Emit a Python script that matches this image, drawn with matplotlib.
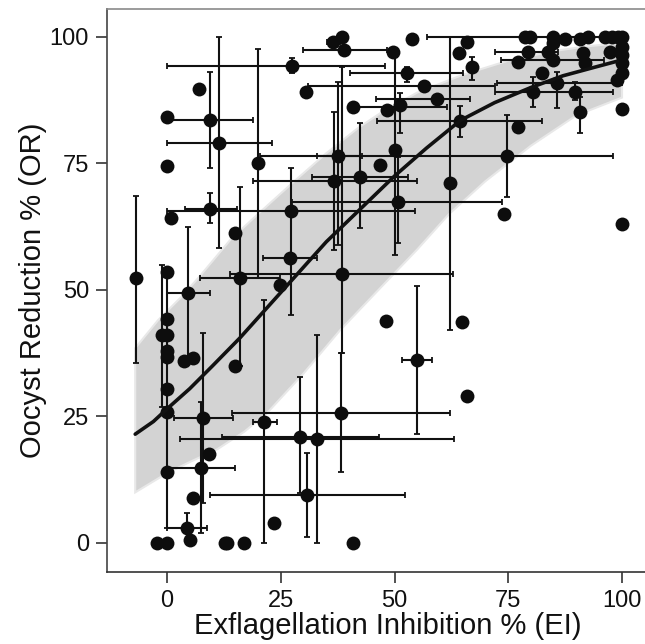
import numpy as np
import matplotlib
matplotlib.use("Agg")
import matplotlib.pyplot as plt

plt.rcParams['font.family'] = ['Liberation Sans', 'DejaVu Sans']

nan = np.nan
# ---- data: points (x, y) and error-bar bounds (x_lo, x_hi, y_lo, y_hi) ----
pt_x = [-6.8, 0, 0, 0.9, 0, 0, -1.1, 0, 0, 0, 0, 0, 0, -2.2, 0,
        4.6, 3.7, 5.7, 7.9, 7.5, 9.2, 5.7, 4.4, 5, 12.7, 13.2, 16.9, 23.5, 40.9,
        21.3, 29.2, 33, 30.8, 38.2, 14.9, 16, 24.8, 27, 27.3, 14.9, 9.5, 20,
        9.5, 11.4, 7.1, 27.5, 30.5, 36.5, 38.5, 38.9, 40.9, 37.6, 36.7, 42.4,
        38.5, 46.8, 50.1, 50.8, 48.4, 51.2, 49.7, 52.7, 53.8, 56.5, 59.3, 64.4,
        62.2, 65.9, 64.2, 67, 74.7, 77.1, 74, 55, 48.1, 64.8, 65.9,
        78.7, 79.8, 84.8, 87.5, 90.8, 92.5, 96.3, 97.8, 99.1, 100,
        79.3, 84.8, 83.7, 91.4, 97.4, 100, 100, 100, 98.9, 100, 82.4, 85.7,
        80.4, 89.7, 90.8, 91.9, 77.1, 84.8, 100, 100]
pt_y = [52.4, 84.2, 74.5, 64.2, 53.6, 44.3, 41.1, 41.1, 37.9, 36.8, 30.4, 25.9, 14, 0, 0,
        49.4, 36, 36.6, 24.7, 14.8, 17.6, 8.9, 3, 0.6, 0, 0, 0, 4, 0,
        23.9, 21, 20.5, 9.5, 25.7, 35, 52.4, 51, 56.3, 65.6, 61.3, 66, 75.1,
        83.6, 79, 89.7, 94.3, 89.1, 99, 100, 97.4, 86.2, 76.5, 71.5, 72.3,
        53.2, 74.7, 77.7, 67.4, 85.6, 86.6, 97.1, 92.9, 99.6, 90.3, 87.7, 83.4,
        71.1, 99, 96.8, 94.1, 76.5, 82.2, 65, 36.2, 43.9, 43.7, 29,
        100, 100, 100, 99.6, 99.6, 100, 100, 100, 100, 100,
        97, 98.8, 97, 96.8, 97, 96.4, 94.9, 92.9, 91.5, 98, 92.9, 90.9,
        89.1, 89.1, 85.2, 94.9, 95.1, 95.5, 85.8, 63]
x_lo = [nan]*len(pt_x); x_hi = [nan]*len(pt_x)
y_lo = [nan]*len(pt_x); y_hi = [nan]*len(pt_x)
bars = {  # index: (x_lo, x_hi, y_lo, y_hi)
    0: (nan, nan, 35.6, 68.6), 6: (nan, nan, 26.9, 55), 11: (nan, nan, 3, 53),
    15: (0, 9.5, 36.8, 62.5), 18: (1.5, 14.5, 7.9, 41.5), 19: (0, 15, 2, 27.9),
    22: (0, 8.8, 2, 5.9), 29: (18.9, 24.2, 0, 48), 30: (12, 46.6, 9.9, 32.8),
    31: (2.9, 63, 0, 41.1), 32: (9.5, 52.3, 1.2, 17.8), 33: (14.3, 62.2, 14, 37.5),
    35: (7.3, 24.8, 35, 70.4), 37: (21.1, 33, nan, nan), 38: (0, 54.5, 45, 74.1),
    40: (4, 15.4, 63.2, 69.1), 41: (nan, nan, 52.4, 97.6), 42: (0, 19, 74.1, 93.1),
    43: (0, 23, 58.3, 100), 45: (0, 47.9, 92.9, 95.8), 47: (35.2, 38, nan, nan),
    49: (29.9, 48.4, nan, nan), 50: (40, 61.5, nan, nan), 51: (33, 42.9, 58.9, 91.1),
    52: (18.9, 55, 57.9, 85.2), 53: (31.9, 53, 62.2, 83), 54: (13.8, 62.9, 37.5, 94.1),
    56: (nan, nan, 56.9, 96), 57: (27.5, 73.6, 59.3, 76.3), 59: (nan, nan, 81, 89),
    61: (40.2, 65, 91.1, 94.1), 63: (31, 72, nan, nan), 64: (46, 66.6, nan, nan),
    65: (46.2, 82.4, 80.2, 86.4), 66: (nan, nan, 42.1, 100), 69: (nan, nan, 91.4, 96),
    70: (20.4, 98, 68.4, 84.6), 73: (51.6, 58.2, 21.5, 50.8), 77: (57.1, 100, nan, nan),
    87: (72, 86, nan, nan), 98: (72.5, 100, 86, 93), 99: (nan, nan, 86.2, 92),
    100: (72, 98, 87.5, 91), 101: (nan, nan, 81, 88.1), 104: (73.5, 96, nan, nan),
}
for i, (a, b, c, d) in bars.items():
    x_lo[i], x_hi[i], y_lo[i], y_hi[i] = a, b, c, d

# fitted curve and confidence band
curve_x = [-7, -3, 0, 5, 10, 16, 22, 27.5, 35, 42.5, 50, 57, 64.5, 72, 80, 87, 94, 99]
curve_y = [21.5, 24, 26.5, 30.5, 35, 40.5, 46.5, 52, 59.5, 66, 72.5, 78, 83.5, 87, 90, 92.3, 94, 95.2]
band_up_x = [-7, -2, 3, 7, 14, 20, 28, 35, 42, 47, 55, 65, 75, 85, 92, 100]
band_up_y = [38.5, 44, 48.5, 52.5, 60, 65, 71.5, 77, 82, 85, 89, 92.5, 95.3, 97.2, 98.1, 98.8]
band_lo_x = [-7, 0, 5, 11, 17, 22, 30, 38, 47, 55, 62, 70, 80, 90, 100]
band_lo_y = [10, 13.8, 16, 18.5, 22, 25.7, 33.5, 42, 50.5, 58, 65, 71.5, 78.5, 84.5, 88]

ticks = [0, 25, 50, 75, 100]

# ---- figure ----
fig = plt.figure(figsize=(6.45, 6.44), dpi=100)
ax = fig.add_axes([107/645, 72/644, 0.869, 563/644])
ax.set_xlim(-13.2, 110)
ax.set_ylim(-5.73, 105.5)

bx = np.r_[band_up_x, band_lo_x[::-1]]
by = np.r_[band_up_y, band_lo_y[::-1]]
ax.fill(bx, by, facecolor='#d3d3d3', edgecolor='#e8e8e8', lw=1.5, zorder=1)

px = np.array(pt_x); py = np.array(pt_y)
xl = np.array(x_lo); xh = np.array(x_hi); yl = np.array(y_lo); yh = np.array(y_hi)
mx = ~np.isnan(xl)
my = ~np.isnan(yl)
ax.errorbar(px[mx], py[mx], xerr=[px[mx]-xl[mx], xh[mx]-px[mx]], fmt='none',
            ecolor='#111111', elinewidth=1.5, capsize=2.2, capthick=1.3, zorder=2)
ax.errorbar(px[my], py[my], yerr=[py[my]-yl[my], yh[my]-py[my]], fmt='none',
            ecolor='#111111', elinewidth=1.5, capsize=2.2, capthick=1.3, zorder=2)
ax.plot(px, py, 'o', color='#0d0d0d', markersize=10, markeredgewidth=0, zorder=3)
ax.plot(curve_x, curve_y, color='#111111', lw=2.6, zorder=4, solid_capstyle='round')

ax.set_xticks(ticks)
ax.set_yticks(ticks)
ax.tick_params(axis='both', length=8, width=1.2, color='#333333', labelsize=17,
               labelcolor='#111111', pad=5)
ax.spines['right'].set_visible(False)
ax.spines['top'].set_color('#8a8a8a')
ax.spines['left'].set_color('#444444')
ax.spines['bottom'].set_color('#333333')
for s in ax.spines.values():
    s.set_linewidth(1.2)

ax.set_xlabel('Exflagellation Inhibition % (EI)', fontsize=21, color='#111111', labelpad=0)
ax.set_ylabel('Oocyst Reduction % (OR)', fontsize=21, color='#111111', labelpad=2)

fig.savefig('out.png', dpi=100)
